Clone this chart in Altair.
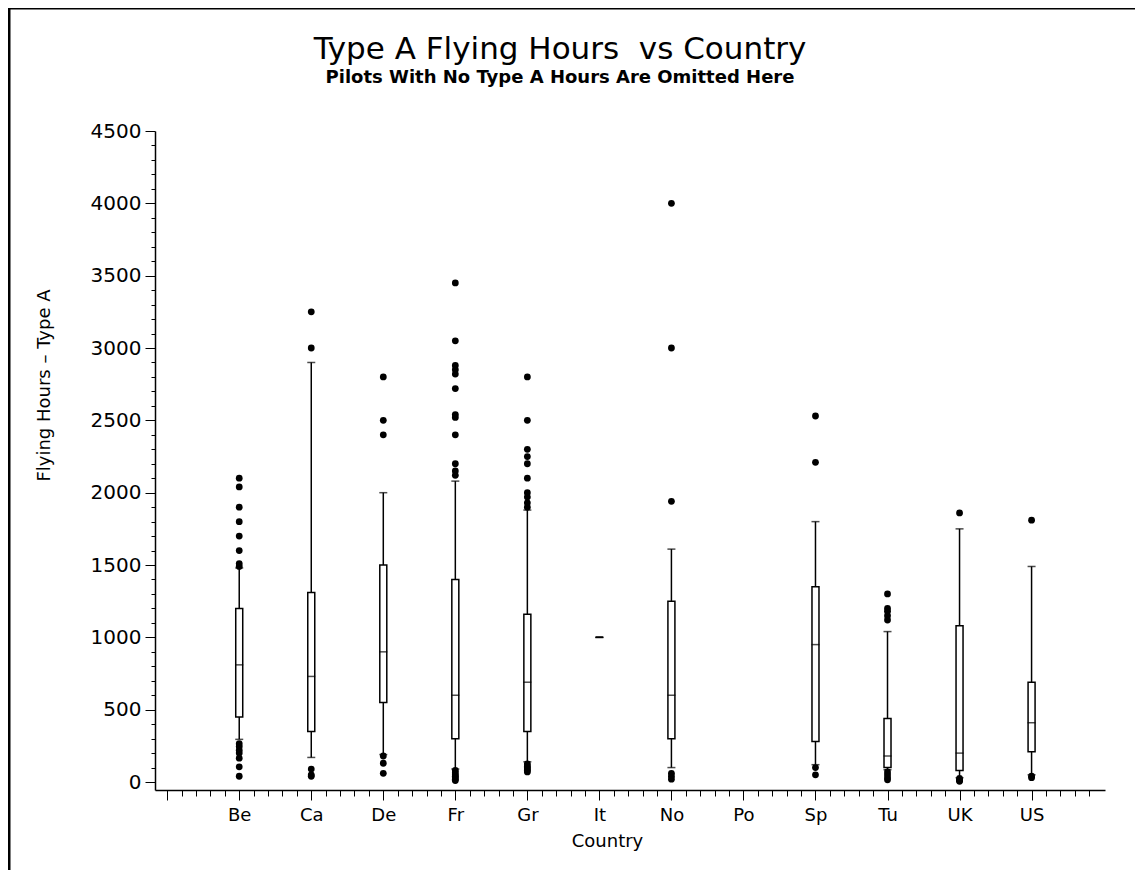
import json
import altair as alt
import pandas as pd

countries = ["Be", "Ca", "De", "Fr", "Gr", "It", "No", "Po", "Sp", "Tu", "UK", "US"]
q1 = [450, 350, 550, 300, 350, 1000, 300, None, 280, 100, 80, 210]
median = [810, 730, 900, 600, 690, 1000, 600, None, 950, 180, 200, 410]
q3 = [1200, 1310, 1500, 1400, 1160, 1000, 1250, None, 1350, 440, 1080, 690]
whisk_lo = [295, 170, 190, 90, 140, 1000, 100, None, 120, 85, 30, 50]
whisk_hi = [1480, 2900, 2000, 2080, 1880, 1000, 1610, None, 1800, 1040, 1750, 1490]

out_be = [2100, 2040, 1900, 1800, 1700, 1600, 1510, 1490, 265, 245, 220, 200, 165, 105, 40]
out_ca = [3250, 3000, 90, 50, 40]
out_de = [2800, 2500, 2400, 180, 130, 60]
out_fr = [3450, 3050, 2880, 2850, 2820, 2720, 2540, 2520, 2400, 2200, 2150, 2120,
          80, 65, 50, 40, 30, 20, 10]
out_gr = [2800, 2500, 2300, 2250, 2200, 2100, 2000, 1970, 1930, 1900, 125, 110, 100, 90, 80, 70]
out_it = []
out_no = [4000, 3000, 1940, 60, 40, 20]
out_po = []
out_sp = [2530, 2210, 100, 50]
out_tu = [1300, 1200, 1180, 1150, 1120, 70, 50, 30, 15]
out_uk = [1860, 25, 15, 10, 5]
out_us = [1810, 40, 30]
outliers = [out_be, out_ca, out_de, out_fr, out_gr, out_it, out_no, out_po,
            out_sp, out_tu, out_uk, out_us]

rows = []
for i, c in enumerate(countries):
    if q1[i] is None:
        continue
    rows.append(dict(country=c, idx=i + 1, q1=q1[i], med=median[i], q3=q3[i],
                     lo=whisk_lo[i], hi=whisk_hi[i]))
box_df = pd.DataFrame(rows)

orows = []
for i, c in enumerate(countries):
    for v in outliers[i]:
        orows.append(dict(country=c, idx=i + 1, value=v))
out_df = pd.DataFrame(orows)

x_ticks = [round(k / 5, 1) for k in range(0, 65)]
y_ticks = list(range(0, 4501, 100))

label_expr = ("(datum.value % 1 === 0 && datum.value >= 1) ? "
              + json.dumps(countries) + "[datum.value - 1] : ''")

x_axis = alt.Axis(values=x_ticks, labelExpr=label_expr, title="Country",
                  tickSize={"condition": {"test": "datum.value % 1 === 0", "value": 10}, "value": 6},
                  labelOverlap=False, grid=False, labelPadding=6, titlePadding=8,
                  titleX=452)
y_axis = alt.Axis(values=y_ticks, labelExpr="datum.value % 500 === 0 ? datum.label : ''",
                  title="Flying Hours \u2013 Type A",
                  tickSize={"condition": {"test": "datum.value % 500 === 0", "value": 10}, "value": 4},
                  labelOverlap=False, grid=False, format="d", labelPadding=4,
                  labelFontSize=20, titleX=-102, titleY=254)

xs = alt.Scale(domain=[-0.1, 12.95], nice=False, zero=False)
ys = alt.Scale(domain=[-55, 4500], nice=False, zero=False)


def X():
    return alt.X("idx:Q", scale=xs, axis=x_axis)


def Y(field):
    return alt.Y(field, type="quantitative", scale=ys, axis=y_axis)


base = alt.Chart(box_df)

whisk_low = base.mark_rule(color="black", strokeWidth=1.5).encode(x=X(), y=Y("lo"), y2="q1")
whisk_high = base.mark_rule(color="black", strokeWidth=1.5).encode(x=X(), y=Y("q3"), y2="hi")
cap_low = base.mark_tick(orient="horizontal", size=8, thickness=1.5, color="black").encode(x=X(), y=Y("lo"))
cap_high = base.mark_tick(orient="horizontal", size=8, thickness=1.5, color="black").encode(x=X(), y=Y("hi"))
boxes = base.mark_bar(size=7, fill="white", stroke="black", strokeWidth=1.5).encode(
    x=X(), y=Y("q1"), y2="q3")
med = base.mark_tick(orient="horizontal", size=8, thickness=1.5, color="black").encode(x=X(), y=Y("med"))
pts = alt.Chart(out_df).mark_circle(size=46, color="black", opacity=1).encode(x=X(), y=Y("value"))

frame_df = pd.DataFrame({"f": [0]})
frame_left = alt.Chart(frame_df).mark_rule(color="black", strokeWidth=3).encode(
    x=alt.value(-146), y=alt.value(-123), y2=alt.value(900))
frame_top = alt.Chart(frame_df).mark_rule(color="black", strokeWidth=3).encode(
    x=alt.value(-146), x2=alt.value(1100), y=alt.value(-123))

chart = alt.layer(whisk_low, whisk_high, cap_low, cap_high, boxes, med, pts, frame_left, frame_top).properties(
    width=950, height=659,
    autosize=alt.AutoSizeParams(type="none"),
    padding={"left": 147, "top": 123, "right": 30, "bottom": 80},
    title=alt.TitleParams(
        text="Type A Flying Hours\u00a0\u00a0vs Country",
        subtitle="Pilots With No Type A Hours Are Omitted Here",
        font="DejaVu Sans", fontSize=31, fontWeight="normal", color="black",
        subtitleFont="DejaVu Sans", subtitleFontSize=18, subtitleFontWeight="bold",
        subtitleColor="black", subtitlePadding=3,
        anchor="middle", dx=-70, offset=-81,
    ),
).configure_view(stroke=None).configure_axis(
    labelFont="DejaVu Sans", labelFontSize=18, labelColor="black",
    titleFont="DejaVu Sans", titleFontSize=18, titleFontWeight="normal", titleColor="black",
    domainColor="black", domainWidth=1.5, tickColor="black", tickWidth=1,
)

chart.save("out.html", embed_options={"renderer": "svg", "actions": False})
